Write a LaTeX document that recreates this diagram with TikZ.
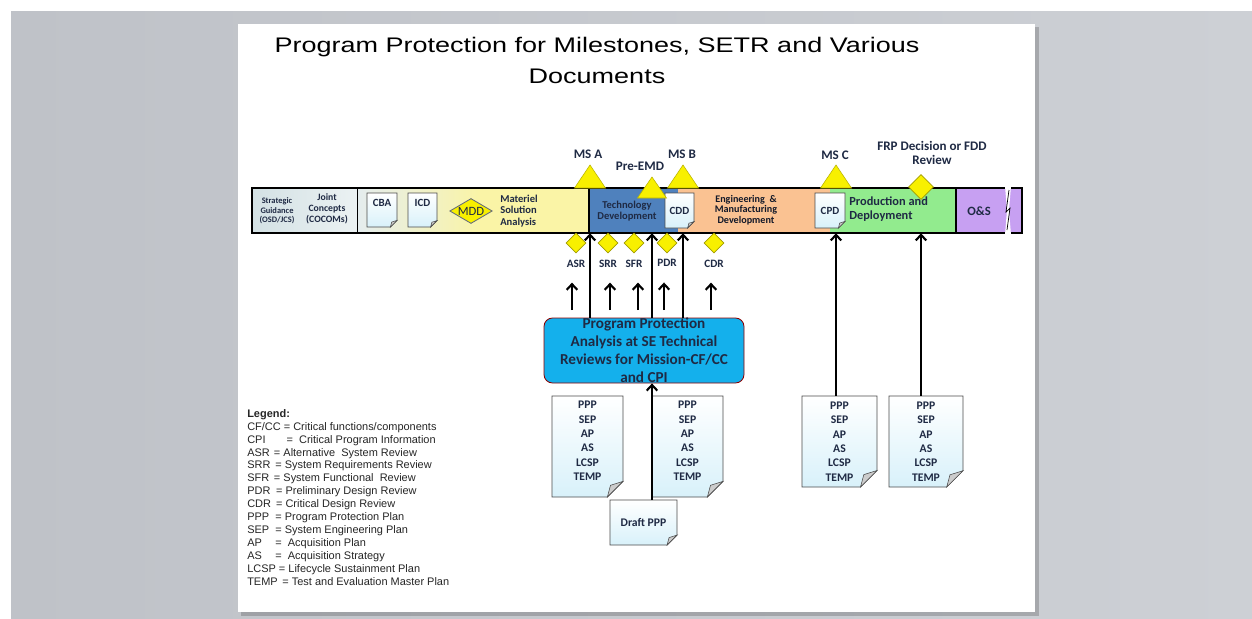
\documentclass[tikz,border=0pt]{standalone}
\usepackage{fontspec}
\setmainfont{Carlito}
\newfontfamily\arialfont{Liberation Sans}
\newfontfamily\titlefont[FakeStretch=1.28]{Liberation Sans}
\usepackage{tikz}
\usetikzlibrary{calc,positioning,arrows.meta,fit,shapes}

\definecolor{backleft}{HTML}{BFC2C8}
\definecolor{backright}{HTML}{CDD0D5}
\definecolor{navy}{HTML}{1F2A44}
\definecolor{barteal}{HTML}{D3E1E4}
\definecolor{msayellow}{HTML}{FAF4A6}
\definecolor{tdblue}{HTML}{4F81BD}
\definecolor{emdorange}{HTML}{FAC292}
\definecolor{pdgreen}{HTML}{92EB8E}
\definecolor{ospurple}{HTML}{C7A0F2}
\definecolor{msyellow}{HTML}{F8F000}
\definecolor{ppablue}{HTML}{14B0EC}
\definecolor{docblue}{HTML}{D8F1FA}

\def\px{0.025cm}

\tikzset{
  titletext/.style={anchor=base, inner sep=0pt, font=\titlefont\fontsize{15}{18}\selectfont},
  ms/.style={fill=msyellow, draw=msyellow!75!black, line width=0.4pt},
  mslabel/.style={font=\fontsize{9.3}{10}\selectfont\bfseries, text=navy, align=center},
  revdia/.style={diamond, aspect=1, fill=msyellow, draw=msyellow!65!black, line width=0.4pt,
    inner sep=0pt, minimum width=20*\px, minimum height=20*\px},
  revlabel/.style={font=\fontsize{8}{9}\selectfont\bfseries, text=navy},
  docline/.style={draw=gray!60!black, line width=0.5pt, top color=white, bottom color=docblue},
  doctext/.style={font=\fontsize{8.3}{10.2}\selectfont\bfseries, text=navy, align=center, inner sep=0pt},
  ppabox/.style={rounded corners=6pt, fill=ppablue, draw=red!55!black, line width=0.6pt,
    align=center, text=navy, font=\fontsize{10.8}{12.8}\selectfont\bfseries,
    minimum width=200*\px, minimum height=65*\px, inner xsep=2pt, inner ysep=0pt},
  arr/.style={-{Straight Barb[length=4pt,width=7.5pt]}, line width=1.5pt},
}

% document with folded corner: options, name, x1, y1, x2, y2, text
\newcommand{\docnode}[7][]{%
  \pgfmathsetmacro{\fold}{0.22*min(#5-#3,#6-#4)}
  \draw[docline] (#3,#4) -- (#5,#4) -- (#5,#6-\fold) -- (#5-\fold,#6) -- (#3,#6) -- cycle;
  \filldraw[draw=gray!60!black, fill=gray!40, line width=0.4pt]
    (#5,#6-\fold) -- (#5-0.8*\fold,#6-0.75*\fold) -- (#5-\fold,#6) -- cycle;
  \node[doctext, minimum width=(#5-#3)*\px, minimum height=(#6-#4)*\px, #1] (#2)
    at ({(#3+#5)/2},{(#4+#6)/2}) {#7};
}
\newcommand{\lgd}[3]{\makebox[#1][l]{#2}#3}

\begin{document}
\begin{tikzpicture}[x=0.025cm, y=-0.025cm]
\useasboundingbox (0,0) rectangle (1252,619);
% backdrop and slide
\fill[white] (0,0) rectangle (1252,619);
\shade[left color=backleft, right color=backright] (11,11) rectangle (1252,619);
\fill[black, opacity=0.18] (241,27) rectangle (1039,616);
\fill[white] (238,24) rectangle (1035,612);

\path (597,52) node[titletext] (titleA) {Program Protection for Milestones, SETR and Various};
\path (597,83) node[titletext] (titleB) {Documents};

% phase bar
\shade[left color=barteal, right color=barteal!45] (252,188) rectangle (357,233);
\shade[left color=barteal!60, right color=msayellow] (357,188) rectangle (480,233);
\fill[msayellow] (480,188) rectangle (589,233);
\fill[tdblue] (589,188) rectangle (678,233);
\fill[emdorange] (678,188) rectangle (830,233);
\fill[pdgreen] (830,188) rectangle (956,233);
\fill[ospurple] (956,188) rectangle (1022,233);
\draw[line width=0.6pt] (357,188) -- (357,233);
\draw[line width=1.2pt] (589,188) -- (589,233) (956,188) -- (956,233);
\draw[line width=1.5pt] (252,188) rectangle (1022,233);
\fill[white] (1005,186) -- (1011,186) -- (1009,210) -- (1011,235) -- (1005,235) -- (1007,210) -- cycle;
\draw[line width=0.5pt] (1009,190) -- (1006,212) -- (1010,208) -- (1007,230);
\node[fit={(252,188) (1022,233)}, inner sep=0pt] (bar) {};

\path (277,211) node[align=center, font=\fontsize{6}{6.8}\selectfont\bfseries, text=navy] (sgtext) {Strategic\\Guidance\\(OSD/JCS)};
\path (327,209) node[align=center, font=\fontsize{6.9}{7.8}\selectfont\bfseries, text=navy] (jctext) {Joint\\Concepts\\(COCOMs)};
\node[diamond, aspect=1.7, fill=msyellow, draw=navy!70, line width=0.6pt, inner sep=0.3pt,
  font=\fontsize{9}{9}\selectfont, text=navy] (mdd) at (471,211) {MDD};
\path (500,211) node[anchor=west, align=left, inner sep=0pt, font=\fontsize{7.5}{8.2}\selectfont\bfseries, text=navy] (msatext) {Materiel\\Solution\\Analysis};
\path (627,211) node[align=center, font=\fontsize{7.5}{7.8}\selectfont\bfseries, text=navy] (tdtext) {Technology\\Development};
\path (746,210) node[align=center, font=\fontsize{7.2}{7.5}\selectfont\bfseries, text=navy!60!black] (emdtext) {Engineering \ \&\\Manufacturing\\Development};
\path (849,209) node[anchor=west, align=left, inner sep=0pt, font=\fontsize{8.8}{10}\selectfont\bfseries, text=navy] (pdtext) {Production and\\Deployment};
\path (979,211) node[font=\fontsize{9}{9}\selectfont\bfseries, text=navy] (ostext) {O\&S};

\docnode[yshift=5pt, font=\fontsize{7.8}{8}\selectfont\bfseries]{cba}{367}{193}{397}{227}{CBA}
\docnode[yshift=5pt, font=\fontsize{7.8}{8}\selectfont\bfseries]{icd}{408}{193}{437}{227}{ICD}
\docnode[font=\fontsize{7.8}{8}\selectfont\bfseries]{cdd}{665}{193}{694}{228}{CDD}
\docnode[font=\fontsize{7.8}{8}\selectfont\bfseries]{cpd}{815}{193}{845}{228}{CPD}

% milestones
\coordinate (msa) at (590,165);
\coordinate (preemd) at (652,177);
\coordinate (msb) at (683,165);
\coordinate (msc) at (836,165);
\filldraw[ms] (msa) -- ++(15.5,23) -- ++(-31,0) -- cycle;
\filldraw[ms] (preemd) -- ++(14.5,21) -- ++(-29,0) -- cycle;
\filldraw[ms] (msb) -- ++(15.5,23) -- ++(-31,0) -- cycle;
\filldraw[ms] (msc) -- ++(15.5,23) -- ++(-31,0) -- cycle;
\node[revdia, minimum width=25*\px, minimum height=25*\px] (frp) at (921,187) {};
\path (588,154) node[mslabel] (msalab) {MS A};
\path (640,166) node[mslabel] (preemdlab) {Pre-EMD};
\path (682,154) node[mslabel] (msblab) {MS B};
\path (835,155) node[mslabel] (msclab) {MS C};
\path (932,153) node[mslabel] (frplab) {FRP Decision or FDD\\Review};

% analysis box and documents
\node[ppabox] (ppa) at (644,350.5) {Program Protection\\Analysis at SE Technical\\Reviews for Mission-CF/CC\\and CPI};
\docnode[yshift=4pt]{docA}{552}{396}{623}{497}{PPP\\SEP\\AP\\AS\\LCSP\\TEMP}
\docnode[yshift=4pt]{docB}{652}{396}{723}{497}{PPP\\SEP\\AP\\AS\\LCSP\\TEMP}
\docnode{draft}{610}{500}{677}{545}{Draft PPP}
\docnode{docC}{802}{396}{877}{487}{PPP\\SEP\\AP\\AS\\LCSP\\TEMP}
\docnode{docD}{889}{396}{963}{487}{PPP\\SEP\\AP\\AS\\LCSP\\TEMP}

% technical reviews
\foreach \n/\x/\ax in {ASR/576/572, SRR/608/610, SFR/634/638, PDR/667/664, CDR/714/711}{
  \node[revdia] (\n) at (\x,243) {};
  \node[revlabel, below=1pt of \n] (lab\n) {\n};
  \coordinate (tail\n) at (\ax,310);
  \draw[arr, shorten >=7.5pt] (tail\n) -- (tail\n |- lab\n.south);
}

% connectors
\foreach \m in {msa, preemd, msb}
  \draw[arr] (ppa.north -| \m) -- (\m |- bar.south);
\draw[arr] (draft.north -| preemd) -- (preemd |- ppa.south);
\draw[arr] (docC.north -| msc) -- (msc |- bar.south);
\draw[arr] (docD.north -| frp) -- (frp |- bar.south);

% legend
\path (247,409) node[anchor=north west, align=left, inner sep=0pt, text=black!85,
  font=\arialfont\fontsize{7.8}{9.2}\selectfont] (legend) {\textbf{Legend:}\\
  CF/CC = Critical functions/components\\
  \lgd{28pt}{CPI}{=\ \ Critical Program Information}\\
  \lgd{19pt}{ASR}{= Alternative \ System Review}\\
  \lgd{20pt}{SRR}{= System Requirements Review}\\
  \lgd{19pt}{SFR}{= System Functional \ Review}\\
  \lgd{20.5pt}{PDR}{= Preliminary Design Review}\\
  \lgd{20.5pt}{CDR}{= Critical Design Review}\\
  \lgd{20pt}{PPP}{= Program Protection Plan}\\
  \lgd{20pt}{SEP}{= System Engineering Plan}\\
  \lgd{20pt}{AP}{=\ \ Acquisition Plan}\\
  \lgd{20pt}{AS}{=\ \ Acquisition Strategy}\\
  LCSP = Lifecycle Sustainment Plan\\
  \lgd{25pt}{TEMP}{= Test and Evaluation Master Plan}};
\end{tikzpicture}
\end{document}
